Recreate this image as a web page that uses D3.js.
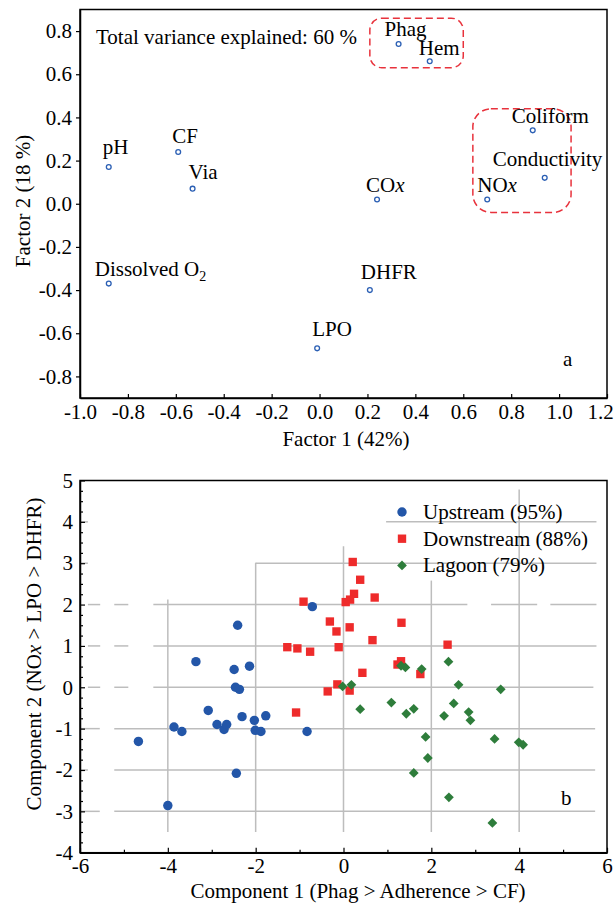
<!DOCTYPE html>
<html>
<head>
<meta charset="utf-8">
<script src="https://cdn.jsdelivr.net/npm/d3@7"></script>
<style>
  body { margin: 0; background: #fff; }
  svg { display: block; }
  text { font-family: "Liberation Serif", "Times New Roman", "DejaVu Serif", serif; }
</style>
</head>
<body>
<div id="chart"></div>
<script>
// panel a - factor loadings
const varNames = ["pH", "CF", "Via", "Dissolved O2", "Phag", "Hem", "Coliform", "Conductivity", "NOx", "COx", "DHFR", "LPO"];
const factor1 = [-0.88, -0.59, -0.53, -0.88, 0.33, 0.46, 0.89, 0.94, 0.70, 0.24, 0.21, -0.01];
const factor2 = [0.17, 0.24, 0.07, -0.37, 0.74, 0.66, 0.34, 0.12, 0.02, 0.02, -0.40, -0.67];
const factorXTicks = [-1.0, -0.8, -0.6, -0.4, -0.2, 0.0, 0.2, 0.4, 0.6, 0.8, 1.0, 1.2];
const factorYTicks = [-0.8, -0.6, -0.4, -0.2, 0.0, 0.2, 0.4, 0.6, 0.8];
// dashed groups [x0, x1, y0, y1] in loading units
const groupBoxes = [[0.21, 0.60, 0.63, 0.86], [0.64, 1.05, -0.04, 0.44]];

// panel b - PCA scores
const upstream = [[-2.41, 1.50], [-3.36, 0.62], [-2.49, 0.43], [-2.14, 0.51], [-2.46, 0.00], [-2.37, -0.05],
  [-0.71, 1.95], [-3.08, -0.56], [-3.86, -0.96], [-3.68, -1.07], [-4.67, -1.31], [-2.88, -0.90],
  [-2.72, -1.02], [-2.66, -0.90], [-2.31, -0.71], [-2.03, -0.80], [-1.77, -0.69], [-2.01, -1.04],
  [-1.88, -1.07], [-2.44, -2.08], [-4.00, -2.86], [-0.83, -1.07]];
const downstream = [[-0.91, 2.07], [-1.28, 0.97], [-1.05, 0.94], [-0.76, 0.86], [0.21, 3.03], [0.38, 2.60],
  [0.24, 2.26], [0.15, 2.12], [0.05, 2.06], [0.71, 2.17], [-0.31, 1.59], [-0.16, 1.35], [0.14, 1.45],
  [1.32, 1.56], [0.66, 1.14], [-0.11, 0.97], [2.37, 1.03], [1.31, 0.63], [1.23, 0.55], [0.43, 0.35],
  [1.75, 0.32], [-0.14, 0.07], [-0.36, -0.10], [0.14, -0.08], [-1.08, -0.61]];
const lagoon = [[1.31, 0.52], [1.41, 0.48], [1.78, 0.44], [2.39, 0.62], [2.62, 0.06], [3.58, -0.05],
  [-0.02, 0.02], [0.18, 0.06], [0.38, -0.53], [1.09, -0.37], [1.43, -0.64], [1.60, -0.52], [2.29, -0.69],
  [2.51, -0.39], [2.85, -0.60], [2.89, -0.80], [1.87, -1.20], [1.92, -1.71], [1.60, -2.07], [2.40, -2.66],
  [3.39, -3.28], [3.44, -1.25], [3.99, -1.33], [4.09, -1.39]];
const seriesLabels = ["Upstream (95%)", "Downstream (88%)", "Lagoon (79%)"];
const compXTicks = [-6, -4, -2, 0, 2, 4, 6];
const compYTicks = [-4, -3, -2, -1, 0, 1, 2, 3, 4, 5];
// broken grey grid of the original figure, [x1, y1, x2, y2] in score units
const gridSegs = [
  [-6, 4, -5.82, 4], [0.97, 4, 5.76, 4],
  [-6, 3, -5.82, 3], [-2, 3, 5.76, 3],
  [-5.82, 2, -5.54, 2], [-5.22, 2, -4.90, 2], [-4.33, 2, 2.82, 2], [3.36, 2, 4.41, 2], [4.71, 2, 5.76, 2],
  [-5.82, 1, -5.54, 1], [-5.22, 1, -4.90, 1], [-4.33, 1, 5.76, 1],
  [-5.82, 0, -5.54, 0], [-5.22, 0, -4.90, 0], [-4.33, 0, 5.69, 0],
  [-6, -1, -5.55, -1], [-5.22, -1, 5.73, -1],
  [-6, -2, -5.82, -2], [-5.22, -2, 5.73, -2],
  [-6, -3, -5.55, -3], [-5.22, -3, 5.73, -3],
  [-4, 2.12, -4, -3.5], [-2, 3.01, -2, -3.5], [0, 3.41, 0, -3.5], [2, 2.58, 2, -3.5], [4, 4.78, 4, -3.5]
];

const W = 615, H = 904;
const FONT = "21px";
const SERIF = "'Liberation Serif', 'Times New Roman', 'DejaVu Serif', serif";
const svg = d3.select("#chart").append("svg")
  .attr("width", W).attr("height", H)
  .attr("font-family", SERIF);
svg.append("rect").attr("width", W).attr("height", H).attr("fill", "#fff");

function styleAxis(g) {
  g.attr("font-family", SERIF).attr("font-size", FONT);
  g.selectAll("text").attr("fill", "#000");
  g.select(".domain").attr("stroke-width", 1.5);
  g.selectAll(".tick line").attr("stroke-width", 1.2);
}

// label text with italic x and subscript 2
function writeLabel(sel, name) {
  if (name === "NOx" || name === "COx") {
    sel.append("tspan").text(name.slice(0, 2));
    sel.append("tspan").attr("font-style", "italic").text("x");
  } else if (name === "Dissolved O2") {
    sel.append("tspan").text("Dissolved O");
    sel.append("tspan").attr("font-size", "14px").attr("dy", 5).text("2");
  } else {
    sel.text(name);
  }
}

// ---------- panel a ----------
const xA = d3.scaleLinear().domain([-1, 1.2]).range([80, 607]);
const yA = d3.scaleLinear().domain([-0.9, 0.9]).range([398, 9.5]);

svg.append("g")
  .attr("transform", `translate(0,${yA(-0.9)})`)
  .call(d3.axisBottom(xA).tickValues(factorXTicks).tickFormat(d => d.toFixed(1))
    .tickSizeInner(-4).tickSizeOuter(0).tickPadding(6))
  .call(styleAxis)
  .call(g => g.selectAll(".tick:last-of-type text").attr("dx", -7));

svg.append("g")
  .attr("transform", `translate(${xA(-1)},0)`)
  .call(d3.axisLeft(yA).tickValues(factorYTicks).tickFormat(d => d.toFixed(1))
    .tickSizeInner(4).tickSizeOuter(0).tickPadding(4))
  .call(styleAxis);

svg.append("rect")
  .attr("x", xA(-1)).attr("y", yA(0.9))
  .attr("width", xA(1.2) - xA(-1)).attr("height", yA(-0.9) - yA(0.9))
  .attr("fill", "none").attr("stroke", "#000").attr("stroke-width", 1.5);

const boxRadius = [12, 18];
svg.selectAll(".group-box")
  .data(groupBoxes)
  .join("rect")
  .attr("class", "group-box")
  .attr("x", d => xA(d[0]))
  .attr("y", d => yA(d[3]))
  .attr("width", d => xA(d[1]) - xA(d[0]))
  .attr("height", d => yA(d[2]) - yA(d[3]))
  .attr("rx", (d, i) => boxRadius[i])
  .attr("fill", "none")
  .attr("stroke", "#e8323c")
  .attr("stroke-width", 1.5)
  .attr("stroke-dasharray", "7,4");

const loadings = varNames.map((n, i) => ({ name: n, f1: factor1[i], f2: factor2[i] }));

// where each label sits relative to its point (px)
const labelNudge = {
  "pH": [-6, -13], "CF": [-6, -9], "Via": [-4, -10], "Dissolved O2": [-14, -8],
  "Phag": [-14, -8], "Hem": [-11, -6], "Coliform": [-21, -7], "Conductivity": [-52, -12],
  "NOx": [-10, -7], "COx": [-11, -7], "DHFR": [-9, -11], "LPO": [-5, -12]
};

svg.selectAll(".loading")
  .data(loadings)
  .join("circle")
  .attr("class", "loading")
  .attr("cx", d => xA(d.f1))
  .attr("cy", d => yA(d.f2))
  .attr("r", 2.4)
  .attr("fill", "#fff")
  .attr("stroke", "#2b5fb4")
  .attr("stroke-width", 1.3);

loadings.forEach(d => {
  const t = svg.append("text")
    .attr("x", xA(d.f1) + labelNudge[d.name][0])
    .attr("y", yA(d.f2) + labelNudge[d.name][1])
    .attr("font-size", FONT);
  writeLabel(t, d.name);
});

svg.append("text").attr("x", 96).attr("y", 44).attr("font-size", FONT)
  .text("Total variance explained: 60 %");
svg.append("text").attr("x", 563).attr("y", 366).attr("font-size", FONT).text("a");

svg.append("text").attr("x", 346).attr("y", 446).attr("font-size", FONT)
  .attr("text-anchor", "middle").text("Factor 1 (42%)");
svg.append("text").attr("transform", "translate(30,201) rotate(-90)")
  .attr("font-size", FONT).attr("text-anchor", "middle").text("Factor 2 (18 %)");

// ---------- panel b ----------
const xB = d3.scaleLinear().domain([-6, 6]).range([80, 607]);
const yB = d3.scaleLinear().domain([-4, 5]).range([852.7, 480.5]);

svg.append("g")
  .selectAll("line")
  .data(gridSegs)
  .join("line")
  .attr("x1", d => xB(d[0])).attr("y1", d => yB(d[1]))
  .attr("x2", d => xB(d[2])).attr("y2", d => yB(d[3]))
  .attr("stroke", "#bdbdbd")
  .attr("stroke-width", 1.5);

svg.append("g")
  .attr("transform", `translate(0,${yB(-4)})`)
  .call(d3.axisBottom(xB).tickValues(compXTicks).tickFormat(d => String(d))
    .tickSizeInner(-5).tickSizeOuter(0).tickPadding(5))
  .call(styleAxis);

svg.append("g")
  .attr("transform", `translate(0,${yB(-4)})`)
  .call(d3.axisBottom(xB).tickValues([-5, -3, -1, 1, 3, 5]).tickFormat("").tickSizeInner(-3).tickSizeOuter(0))
  .call(g => g.select(".domain").remove())
  .call(styleAxis);

svg.append("g")
  .attr("transform", `translate(${xB(-6)},0)`)
  .call(d3.axisLeft(yB).tickValues(compYTicks).tickFormat(d => String(d))
    .tickSizeInner(-5).tickSizeOuter(0).tickPadding(7))
  .call(styleAxis);

const minorY = d3.range(-4, 5.01, 0.25).filter(v => !Number.isInteger(v));
svg.append("g")
  .attr("transform", `translate(${xB(-6)},0)`)
  .call(d3.axisLeft(yB).tickValues(minorY).tickFormat("").tickSizeInner(-3).tickSizeOuter(0))
  .call(g => g.select(".domain").remove())
  .call(styleAxis);

svg.append("rect")
  .attr("x", xB(-6)).attr("y", yB(5))
  .attr("width", xB(6) - xB(-6)).attr("height", yB(-4) - yB(5))
  .attr("fill", "none").attr("stroke", "#000").attr("stroke-width", 1.5);

const series = [
  { pts: upstream, color: "#2356a8", sym: d3.symbolCircle, size: 70, rot: 0 },
  { pts: downstream, color: "#ee2b2b", sym: d3.symbolSquare, size: 70, rot: 0 },
  { pts: lagoon, color: "#2e7d3b", sym: d3.symbolSquare, size: 48, rot: 45 }
];

series.forEach(s => {
  svg.append("g")
    .selectAll("path")
    .data(s.pts)
    .join("path")
    .attr("d", d3.symbol(s.sym, s.size))
    .attr("transform", d => `translate(${xB(d[0])},${yB(d[1])}) rotate(${s.rot})`)
    .attr("fill", s.color);
});

const legend = svg.selectAll(".legend")
  .data(series)
  .join("g")
  .attr("class", "legend")
  .attr("transform", (d, i) => `translate(402,${512 + i * 26.7})`);

legend.append("path")
  .attr("d", d => d3.symbol(d.sym, d.size)())
  .attr("transform", d => `rotate(${d.rot})`)
  .attr("fill", d => d.color);

legend.append("text")
  .attr("x", 21)
  .attr("dy", "0.33em")
  .attr("font-size", FONT)
  .text((d, i) => seriesLabels[i]);

svg.append("text").attr("x", 561).attr("y", 805).attr("font-size", FONT).text("b");

svg.append("text").attr("x", 358).attr("y", 898).attr("font-size", FONT)
  .attr("text-anchor", "middle").text("Component 1 (Phag > Adherence > CF)");

const yTitle = svg.append("text").attr("transform", "translate(41,654) rotate(-90)")
  .attr("font-size", FONT).attr("text-anchor", "middle");
yTitle.append("tspan").text("Component 2 (NO");
yTitle.append("tspan").attr("font-style", "italic").text("x");
yTitle.append("tspan").text(" > LPO > DHFR)");
</script>
</body>
</html>
